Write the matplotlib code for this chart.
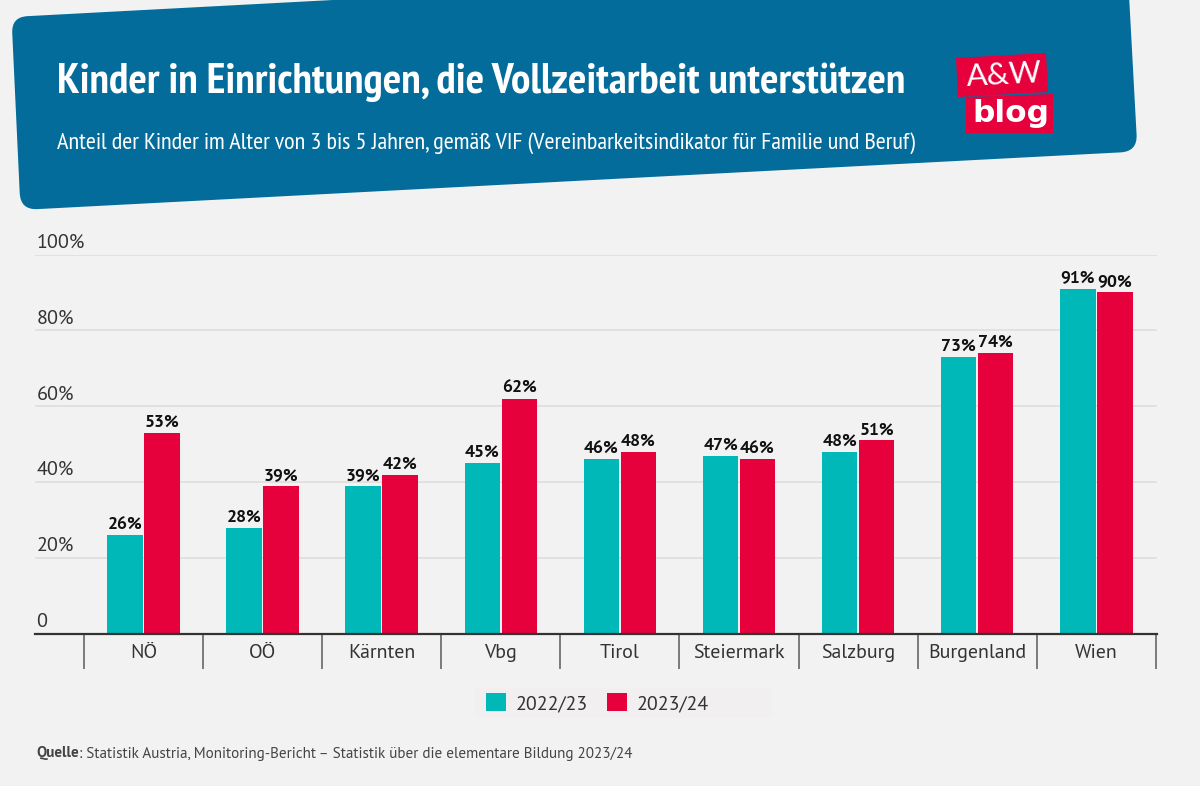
import matplotlib
matplotlib.use("Agg")
import matplotlib.pyplot as plt
import numpy as np
from matplotlib.path import Path
from matplotlib.patches import PathPatch, Polygon
from matplotlib.transforms import ScaledTranslation

regions = ["NÖ", "OÖ", "Kärnten", "Vbg", "Tirol", "Steiermark", "Salzburg", "Burgenland", "Wien"]
values_2223 = [26, 28, 39, 45, 46, 47, 48, 73, 91]
values_2324 = [53, 39, 42, 62, 48, 46, 51, 74, 90]
series_names = ["2022/23", "2023/24"]
y_ticks = [0, 20, 40, 60, 80, 100]
y_tick_labels = ["0", "20%", "40%", "60%", "80%", "100%"]

title = "Kinder in Einrichtungen, die Vollzeitarbeit unterstützen"
subtitle = "Anteil der Kinder im Alter von 3 bis 5 Jahren, gemäß VIF (Vereinbarkeitsindikator für Familie und Beruf)"
source_bold = "Quelle"
source_rest = ": Statistik Austria, Monitoring-Bericht – Statistik über die elementare Bildung 2023/24"

BG = "#f2f2f2"; BLUE = "#036c9a"; TEAL = "#00b8b8"; RED = "#e6003c"; TXT = "#333333"
BODY = ["PT Sans", "Open Sans", "DejaVu Sans"]
NARROW = ["PT Sans Narrow", "Roboto Condensed", "DejaVu Sans"]

W, H = 1200, 786
fig = plt.figure(figsize=(W / 100, H / 100), dpi=100, facecolor=BG)

# overlay in pixel coordinates
ov = fig.add_axes([0, 0, 1, 1], zorder=0)
ov.set_xlim(0, W); ov.set_ylim(H, 0); ov.axis("off")


def rounded(pts, r):
    verts, codes = [], []
    n = len(pts)
    for i in range(n):
        p = np.array(pts[i], float)
        a = np.array(pts[i - 1], float); b = np.array(pts[(i + 1) % n], float)
        p1 = p + (a - p) / np.linalg.norm(a - p) * r[i]
        p2 = p + (b - p) / np.linalg.norm(b - p) * r[i]
        verts += [p1, p, p2]
        codes += [Path.LINETO if i else Path.MOVETO, Path.CURVE3, Path.CURVE3]
    verts.append(verts[0]); codes.append(Path.CLOSEPOLY)
    return Path(verts, codes)


ov.add_patch(PathPatch(rounded([(11.5, 17), (1127, -42), (1137.5, 151.5), (20.5, 210)], [16, 1, 17, 17]),
                       fc=BLUE, ec="none"))
ov.text(57, 82.5, title, color="white", fontsize=31.2, fontweight="bold", family=NARROW, va="center", ha="left")
ov.text(57, 143, subtitle, color="white", fontsize=17.46, family=NARROW, va="center", ha="left")

# logo
ov.add_patch(Polygon([(956, 58), (1046, 53), (1048, 92), (958, 97)], fc=RED, ec="none"))
ov.add_patch(Polygon([(966, 97), (1053, 94), (1053, 133), (966, 133)], fc=RED, ec="none"))
ov.text(1004, 75, "A&W", color="white", fontsize=22.5, fontweight=400, family=["Lato", "DejaVu Sans"], rotation=3,
        rotation_mode="anchor", ha="center", va="center")
ov.text(1011, 113, "blog", color="white", fontsize=22.5, fontweight="bold", family=["DejaVu Sans"],
        ha="center", va="center")

# footer
src = ov.text(36, 753.5, source_bold, color="#444444", fontsize=10.9, fontweight="bold", family=BODY, va="center")
ov.annotate(source_rest, xy=(1, 0.5), xycoords=src, va="center", color="#444444", fontsize=10.9, family=BODY)

# chart
L, R, T, B = 35, 1157, 254.5, 634
ax = fig.add_axes([L / W, 1 - B / H, (R - L) / W, (B - T) / H], zorder=1)
ax.patch.set_alpha(0)
step = 119.1
x = np.arange(len(regions))
ax.set_xlim((L - 143.5) / step, (R - 143.5) / step)
ax.set_ylim(0, 100)
bw = 35.5 / step
off = 18.5 / step
b1 = ax.bar(x - off, values_2223, bw, color=TEAL, label=series_names[0], zorder=3)
b2 = ax.bar(x + off, values_2324, bw, color=RED, label=series_names[1], zorder=3)
for b, v in ((b1, values_2223), (b2, values_2324)):
    ax.bar_label(b, labels=[f"{i}%" for i in v], padding=2.2, fontsize=12.7, fontweight="bold",
                 family=BODY, color="#111111")

for s in ("top", "left", "right"):
    ax.spines[s].set_visible(False)
ax.spines["bottom"].set_color("#333333")
ax.spines["bottom"].set_linewidth(1.6)
ax.spines["bottom"].set_zorder(5)

ax.set_yticks(y_ticks, y_tick_labels)
ax.tick_params(axis="y", length=0, pad=-1, labelsize=14.5, labelcolor=TXT)
shift = ScaledTranslation(0, 3 / 100, fig.dpi_scale_trans)
for t in ax.get_yticklabels():
    t.set_ha("left"); t.set_va("bottom"); t.set_family(BODY)
    t.set_transform(t.get_transform() + shift)
ax.grid(axis="y", color="#dedede", lw=1.2, zorder=1)
ax.set_axisbelow(True)

ax.set_xticks(x, regions)
ax.set_xticks(np.append(x - 0.5, x[-1] + 0.5), minor=True)
ax.tick_params(axis="x", which="major", length=0, pad=7, labelsize=14.3, labelcolor=TXT)
ax.tick_params(axis="x", which="minor", length=25, width=1.2, color="#666666")
for t in ax.get_xticklabels():
    t.set_family(BODY)

# legend
ov.add_patch(plt.Rectangle((475, 688), 297, 30, fc="#f1eff0", ec="none"))
leg = ax.legend(loc="center left", bbox_to_anchor=(486 / W, 1 - 703 / H), bbox_transform=fig.transFigure,
                ncol=2, frameon=False, handlelength=1.0, handleheight=1.0, handletextpad=0.5,
                columnspacing=0.95, borderpad=0, borderaxespad=0,
                prop={"family": BODY, "size": 14.3})
for t in leg.get_texts():
    t.set_color(TXT)

fig.savefig("out.png", dpi=100, facecolor=BG)
